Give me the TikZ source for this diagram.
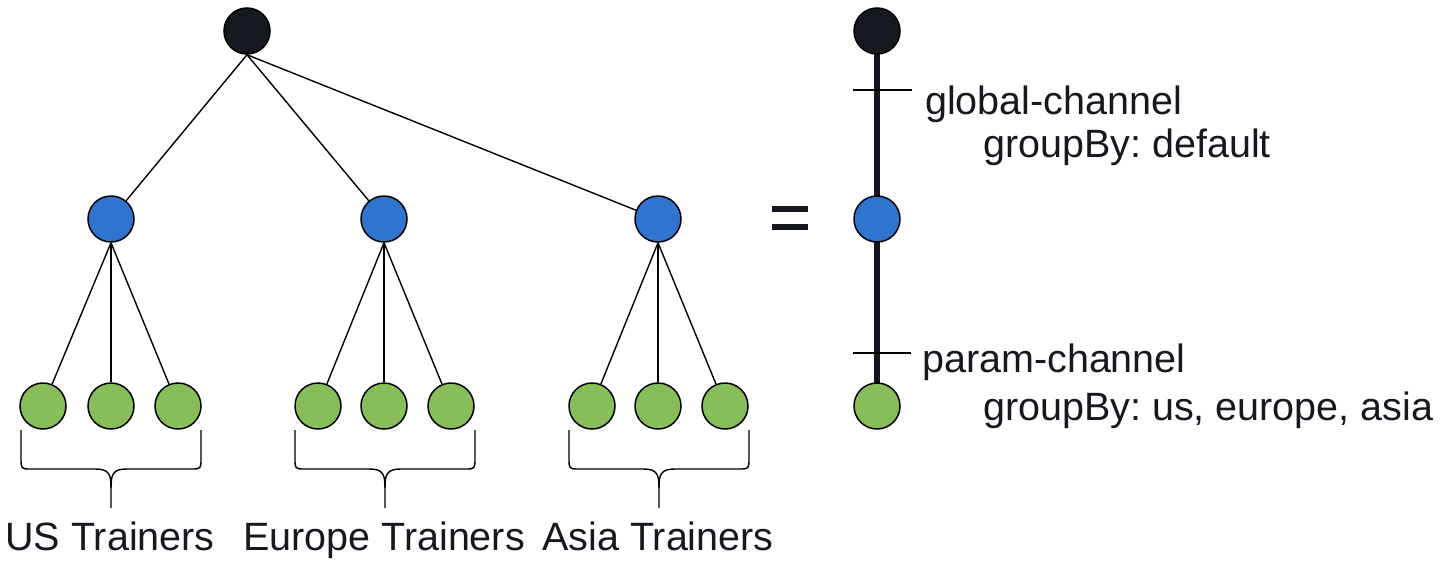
\documentclass[tikz,border=0pt]{standalone}
\usepackage{fontspec}
\setmainfont{Liberation Sans}
\frenchspacing
\definecolor{rootc}{RGB}{21,25,31}
\definecolor{bluec}{RGB}{47,117,208}
\definecolor{greenc}{RGB}{136,189,92}
\tikzset{
  circ/.style={circle, draw=black, line width=1.5pt, minimum size=46pt, inner sep=0pt},
  rootn/.style={circ, fill=rootc},
  bluen/.style={circ, fill=bluec},
  greenn/.style={circ, fill=greenc},
  edge/.style={line width=1.4pt, black},
  spine/.style={line width=6pt, rootc},
  tick/.style={line width=1.4pt, black},
  lbl/.style={font=\fontsize{39.5}{41}\selectfont\frenchspacing, inner sep=0pt, text=rootc},
  ubrace/.pic={
    \draw[line width=1.4pt] (-90,0) -- (-90,28) .. controls (-90,39) .. (-80,39) -- (-16,39) .. controls (-2,39) and (0,44) .. (0,58) -- (0,78);
    \draw[line width=1.4pt] (90,0) -- (90,28) .. controls (90,39) .. (80,39) -- (16,39) .. controls (2,39) and (0,44) .. (0,58);
  }
}
\begin{document}
\begin{tikzpicture}[x=1pt,y=-1pt]
\useasboundingbox (0,0) rectangle (1440,560);
% tree
\node[rootn] (root) at (247,31) {};
\node[bluen] (b1) at (111,219) {};
\node[bluen] (b2) at (384,219) {};
\node[bluen] (b3) at (658,219) {};
\node[greenn] (g11) at (43,406) {};
\node[greenn] (g12) at (111,406) {};
\node[greenn] (g13) at (178,406) {};
\node[greenn] (g21) at (318,406) {};
\node[greenn] (g22) at (384,406) {};
\node[greenn] (g23) at (451,406) {};
\node[greenn] (g31) at (592,406) {};
\node[greenn] (g32) at (658,406) {};
\node[greenn] (g33) at (725,406) {};
\foreach \b in {b1,b2,b3} \draw[edge] (root.south) -- (\b);
\foreach \b/\g in {b1/g11,b1/g12,b1/g13,b2/g21,b2/g22,b2/g23,b3/g31,b3/g32,b3/g33}
  \draw[edge] (\b.south) -- (\g);
% braces
\pic at (111,430) {ubrace};
\pic at (385,430) {ubrace};
\pic at (659,430) {ubrace};
\node[lbl, anchor=base] (l1) at (110,550) {US Trainers};
\node[lbl, anchor=base] (l2) at (384,550) {Europe Trainers};
\node[lbl, anchor=base] (l3) at (658,550) {Asia Trainers};
% equals
\fill[rootc] (772,206) rectangle (808,212);
\fill[rootc] (772,224) rectangle (808,230);
% right chain
\coordinate (s0) at (877,31);
\coordinate (s3) at (877,406);
\draw[spine] (s0) -- (s3);
\node[rootn] (r0) at (877,31) {};
\node[bluen] (r1) at (877,219) {};
\node[greenn] (r2) at (877,406) {};
\coordinate (t1a) at (853,90);
\coordinate (t1b) at (912,90);
\coordinate (t2a) at (853,353);
\coordinate (t2b) at (911,353);
\draw[tick] (t1a) -- (t1b);
\draw[tick] (t2a) -- (t2b);
\node[lbl, anchor=base west] (c1) at (925,114) {global-channel};
\node[lbl, anchor=base west] (c1g) at (983,157) {groupBy: default};
\node[lbl, anchor=base west] (c2) at (922,372) {param-channel};
\node[lbl, anchor=base west] (c2g) at (983,420) {groupBy: us, europe, asia};
\end{tikzpicture}
\end{document}
